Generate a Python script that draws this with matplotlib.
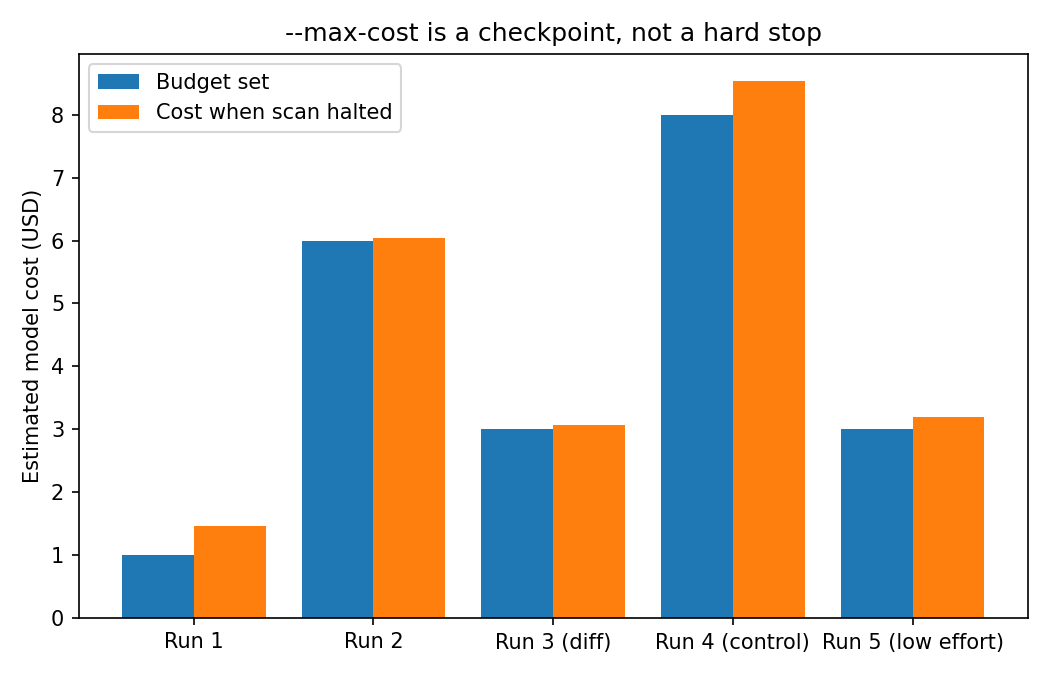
import numpy as np
import matplotlib
matplotlib.use("Agg")
import matplotlib.pyplot as plt

runs = ["Run 1", "Run 2", "Run 3 (diff)", "Run 4 (control)", "Run 5 (low effort)"]
budget = [1.0, 6.0, 3.0, 8.0, 3.0]
halted = [1.46, 6.04, 3.06, 8.54, 3.19]

x = np.arange(len(runs))
w = 0.4

fig, ax = plt.subplots(figsize=(7, 4.5), dpi=150)
ax.bar(x - w / 2, budget, w, label="Budget set")
ax.bar(x + w / 2, halted, w, label="Cost when scan halted")
ax.set_xticks(x)
ax.set_xticklabels(runs)
ax.set_ylabel("Estimated model cost (USD)")
ax.set_title("--max-cost is a checkpoint, not a hard stop")
ax.legend(loc="upper left")
fig.tight_layout()
fig.savefig("out.png")
